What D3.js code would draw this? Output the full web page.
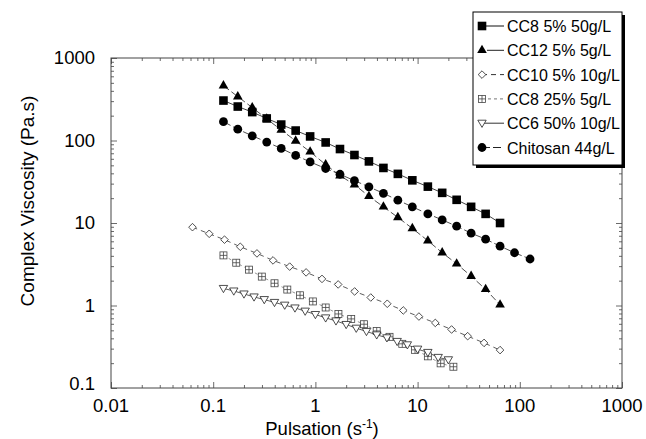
<!DOCTYPE html>
<html>
<head>
<meta charset="utf-8">
<script src="https://cdn.jsdelivr.net/npm/d3@7"></script>
<style>
    body { margin: 0; background: white; }
    text { font-family: "Liberation Sans", Arial, sans-serif; fill: black; }
</style>
</head>
<body>
<div id="chart"></div>
<script>
// frequencies (rad/s)
const freqCC8_5 = [0.126, 0.174, 0.241, 0.334, 0.463, 0.641, 0.888, 1.26, 1.74, 2.41, 3.34, 4.63, 6.41, 8.88, 12.6, 17.4, 24.1, 33.4, 46.3, 64.1];
const freqCC12 = [0.126, 0.174, 0.241, 0.334, 0.463, 0.641, 0.888, 1.26, 1.74, 2.41, 3.34, 4.63, 6.41, 8.88, 12.6, 17.4, 24.1, 33.4, 46.3, 64.1];
const freqCC10 = [0.0627, 0.0914, 0.129, 0.184, 0.268, 0.385, 0.56, 0.811, 1.16, 1.67, 2.42, 3.48, 5.05, 7.24, 10.3, 14.9, 21.5, 30.9, 44.7, 64.1];
const freqCC8_25 = [0.126, 0.168, 0.224, 0.299, 0.398, 0.531, 0.708, 0.944, 1.26, 1.68, 2.24, 2.99, 3.98, 5.31, 7.08, 9.44, 12.6, 16.8, 22.4];
const freqCC6 = [0.126, 0.159, 0.2, 0.251, 0.316, 0.398, 0.501, 0.631, 0.794, 1.0, 1.26, 1.59, 2.0, 2.51, 3.16, 3.98, 5.01, 6.31, 7.94, 10.0, 12.6, 15.9, 20.0];
const freqChitosan = [0.126, 0.174, 0.241, 0.334, 0.463, 0.641, 0.888, 1.26, 1.74, 2.41, 3.34, 4.63, 6.41, 8.88, 12.6, 17.4, 24.1, 33.4, 46.3, 64.1, 88.8, 126];

// complex viscosity (Pa.s)
const etaCC8_5 = [305, 258, 221, 185, 156, 132, 112, 94.7, 78.8, 66.7, 55.8, 46.5, 39.4, 32.9, 27.6, 23.2, 19.1, 15.7, 12.9, 10.0];
const etaCC12 = [462, 340, 251, 183, 134, 99, 73, 51, 37.5, 29.2, 21.1, 15.7, 11.7, 8.6, 6.1, 4.37, 3.2, 2.27, 1.57, 1.02];
const etaCC10 = [8.9, 7.4, 6.28, 5.15, 4.28, 3.52, 2.96, 2.52, 2.10, 1.80, 1.48, 1.25, 1.05, 0.871, 0.735, 0.615, 0.512, 0.425, 0.352, 0.288];
const etaCC8_25 = [4.05, 3.30, 2.72, 2.24, 1.86, 1.56, 1.33, 1.12, 0.946, 0.790, 0.688, 0.593, 0.492, 0.417, 0.343, 0.290, 0.242, 0.199, 0.181];
const etaCC6 = [1.61, 1.50, 1.38, 1.27, 1.18, 1.09, 1.01, 0.934, 0.855, 0.778, 0.708, 0.651, 0.589, 0.531, 0.485, 0.441, 0.406, 0.367, 0.334, 0.296, 0.270, 0.235, 0.220];
const etaChitosan = [169, 137, 114, 95.7, 80.1, 65.9, 55.0, 45.8, 39.0, 32.6, 27.4, 22.9, 18.9, 15.7, 12.9, 10.9, 9.15, 7.53, 6.37, 5.24, 4.36, 3.66];

const seriesNames = ["CC8 5% 50g/L", "CC12 5% 5g/L", "CC10 5% 10g/L", "CC8 25% 5g/L", "CC6 50% 10g/L", "Chitosan 44g/L"];
const xTickLabels = ["0.01", "0.1", "1", "10", "100", "1000"];
const yTickLabels = ["0.1", "1", "10", "100", "1000"];

const width = 646;
const height = 439;

const pl = 111;
const pr = 24;
const pt = 58;
const pb = 51;

const xScale = d3.scaleLog().domain([0.01, 1000]).range([pl, width - pr]);
const yScale = d3.scaleLog().domain([0.1, 1000]).range([height - pb, pt]);

const series = [
    {name: seriesNames[0], x: freqCC8_5, y: etaCC8_5, shape: "square", dash: null, lineColor: "#111"},
    {name: seriesNames[1], x: freqCC12, y: etaCC12, shape: "triangle", dash: "7,3", lineColor: "#222"},
    {name: seriesNames[2], x: freqCC10, y: etaCC10, shape: "diamond", dash: "5,4", lineColor: "#333"},
    {name: seriesNames[3], x: freqCC8_25, y: etaCC8_25, shape: "boxplus", dash: "3,3", lineColor: "#777"},
    {name: seriesNames[4], x: freqCC6, y: etaCC6, shape: "downtriangle", dash: null, lineColor: "#333"},
    {name: seriesNames[5], x: freqChitosan, y: etaChitosan, shape: "circle", dash: "8,3", lineColor: "#222"},
];

const svg = d3.select("#chart").append("svg")
    .attr("width", width)
    .attr("height", height);

function drawMarker(g, shape) {
    if (shape === "square") {
        g.append("rect").attr("x", -4.3).attr("y", -4.3).attr("width", 8.6).attr("height", 8.6).attr("fill", "black");
    } else if (shape === "triangle") {
        g.append("path").attr("d", d3.symbol(d3.symbolTriangle, 40)()).attr("fill", "black");
    } else if (shape === "diamond") {
        g.append("path").attr("d", "M0,-3.8L3.8,0L0,3.8L-3.8,0Z")
            .attr("fill", "white").attr("stroke", "#222").attr("stroke-width", 0.8);
    } else if (shape === "boxplus") {
        g.append("rect").attr("x", -3.5).attr("y", -3.5).attr("width", 7).attr("height", 7)
            .attr("fill", "white").attr("stroke", "#444").attr("stroke-width", 0.8);
        g.append("path").attr("d", "M0,-3.5V3.5M-3.5,0H3.5")
            .attr("stroke", "#444").attr("stroke-width", 0.8);
    } else if (shape === "downtriangle") {
        g.append("path").attr("d", "M-4.2,-3L4.2,-3L0,4.2Z")
            .attr("fill", "white").attr("stroke", "#222").attr("stroke-width", 0.8);
    } else if (shape === "circle") {
        g.append("circle").attr("r", 4.4).attr("fill", "black");
    }
}

// frame ticks, all pointing inward
const majorX = xTickLabels.map(Number);
const majorY = yTickLabels.map(Number);
const minorX = xScale.ticks().filter(d => !majorX.includes(d));
const minorY = yScale.ticks().filter(d => !majorY.includes(d));

const axes = svg.append("g").attr("class", "axes");

function addAxis(axisFn, scale, values, size, transform) {
    const a = axisFn(scale).tickValues(values).tickSize(-size);
    const g = axes.append("g").attr("transform", transform).call(a);
    g.select(".domain").remove();
    g.selectAll("line").attr("stroke", "#444").attr("stroke-width", 0.8);
    g.selectAll("text").remove();
    return g;
}

const plotBottom = height - pb;
const plotRight = width - pr;

addAxis(d3.axisBottom, xScale, minorX, 3, `translate(0,${plotBottom})`);
addAxis(d3.axisBottom, xScale, majorX, 6, `translate(0,${plotBottom})`);
addAxis(d3.axisTop, xScale, minorX, 3, `translate(0,${pt})`);
addAxis(d3.axisTop, xScale, majorX, 6, `translate(0,${pt})`);
addAxis(d3.axisLeft, yScale, minorY, 3, `translate(${pl},0)`);
addAxis(d3.axisLeft, yScale, majorY, 6, `translate(${pl},0)`);
addAxis(d3.axisRight, yScale, minorY, 3, `translate(${plotRight},0)`);
addAxis(d3.axisRight, yScale, majorY, 6, `translate(${plotRight},0)`);

axes.append("rect")
    .attr("x", pl)
    .attr("y", pt)
    .attr("width", plotRight - pl)
    .attr("height", plotBottom - pt)
    .attr("fill", "none")
    .attr("stroke", "#444")
    .attr("stroke-width", 1);

// tick labels
svg.append("g")
    .selectAll("text")
    .data(majorX)
    .enter()
    .append("text")
    .attr("x", d => xScale(d))
    .attr("y", plotBottom + 24)
    .attr("text-anchor", "middle")
    .style("font-size", "18.5px")
    .text((d, i) => xTickLabels[i]);

svg.append("g")
    .selectAll("text")
    .data(majorY)
    .enter()
    .append("text")
    .attr("x", pl - 16)
    .attr("y", (d, i) => yScale(d) + (i === 0 ? 2 : 6))
    .attr("text-anchor", "end")
    .style("font-size", "18.5px")
    .text((d, i) => yTickLabels[i]);

// axis titles
const xTitle = svg.append("text")
    .attr("x", 322)
    .attr("y", height - 4)
    .attr("text-anchor", "middle")
    .style("font-size", "18.5px");
xTitle.append("tspan").text("Pulsation  (s");
xTitle.append("tspan").attr("dy", -7).style("font-size", "12px").text("-1");
xTitle.append("tspan").attr("dy", 7).text(")");

svg.append("text")
    .attr("transform", `translate(34,${(pt + plotBottom) / 2 - 22}) rotate(-90)`)
    .attr("text-anchor", "middle")
    .style("font-size", "19px")
    .text("Complex Viscosity (Pa.s)");

// series lines then markers
const plot = svg.append("g").attr("class", "plot");

series.forEach(s => {
    const pts = s.x.map((x, i) => [xScale(x), yScale(s.y[i])]);
    plot.append("path")
        .attr("d", d3.line()(pts))
        .attr("fill", "none")
        .attr("stroke", s.lineColor)
        .attr("stroke-width", 0.8)
        .attr("stroke-dasharray", s.dash);
});

series.forEach(s => {
    plot.append("g")
        .selectAll("g.marker")
        .data(s.x.map((x, i) => [x, s.y[i]]))
        .enter()
        .append("g")
        .attr("class", "marker")
        .attr("transform", d => `translate(${xScale(d[0])},${yScale(d[1])})`)
        .each(function () { drawMarker(d3.select(this), s.shape); });
});

// legend box with drop shadow
const lx = 473;
const ly = 12;
const lw = 149;
const lh = 153;
const legend = svg.append("g").attr("class", "legend");

legend.append("rect").attr("x", lx + 3).attr("y", ly + 3).attr("width", lw).attr("height", lh).attr("fill", "black");
legend.append("rect").attr("x", lx).attr("y", ly).attr("width", lw).attr("height", lh)
    .attr("fill", "white").attr("stroke", "black").attr("stroke-width", 1);

const rows = legend.selectAll("g.row")
    .data(series)
    .enter()
    .append("g")
    .attr("class", "row")
    .attr("transform", (d, i) => `translate(${lx + 9},${ly + 14 + i * 24.3})`);

rows.append("line")
    .attr("x1", 0)
    .attr("x2", 22)
    .attr("stroke", d => d.lineColor)
    .attr("stroke-width", 1)
    .attr("stroke-dasharray", d => d.dash === null ? null : (d.shape === "triangle" ? "2,3,20" : d.dash));

rows.append("g").each(function (d) { drawMarker(d3.select(this), d.shape); });

rows.append("text")
    .attr("x", 25)
    .attr("y", 6)
    .style("font-size", "16px")
    .text(d => d.name);
</script>
</body>
</html>
